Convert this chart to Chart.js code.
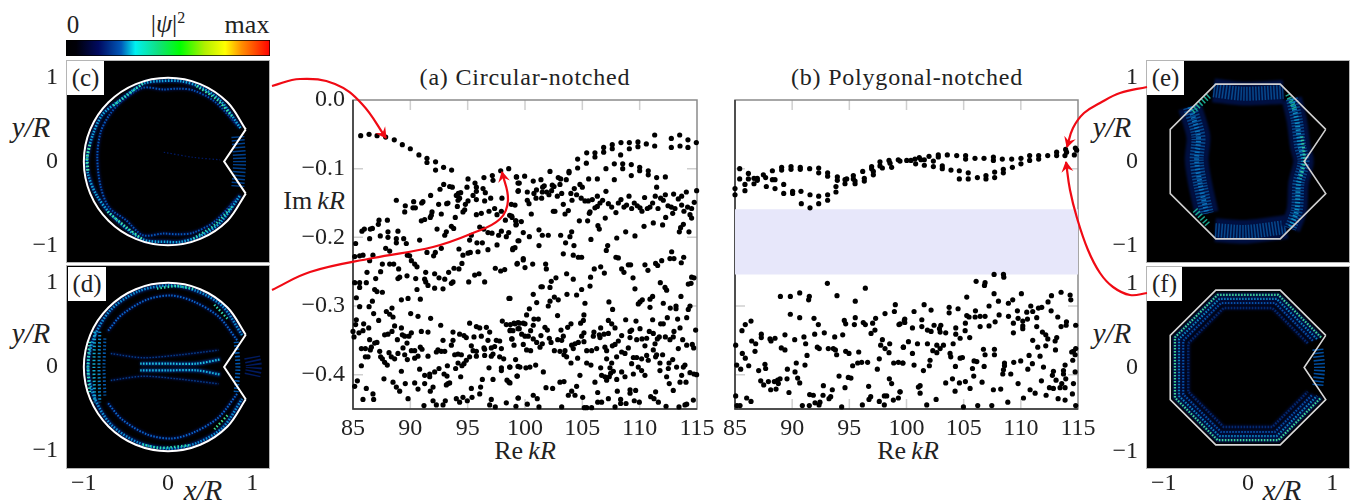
<!DOCTYPE html>
<html>
<head>
<meta charset="utf-8">
<script src="https://cdn.jsdelivr.net/npm/chart.js@4/dist/chart.umd.js"></script>
<style>
html, body { margin: 0; background: #fff; width: 1351px; height: 502px; overflow: hidden; }
canvas { position: absolute; }
.lbl { position: absolute; transform: translate(-50%, -50%); white-space: nowrap; color: #222; font-family: "Liberation Serif", serif; }
.tag { position: absolute; background: #fff; color: #222; font: 25px "Liberation Serif", serif; text-align: center; z-index: 3; }
</style>
</head>
<body>
<script>
// spectrum (a), circular notch: Re kR, Im kR
const circArc = [[85.67,-.052],[86.4,-.05],[87.1,-.052],[87.85,-.054],[88.6,-.058],[89.3,-.065],[90,-.071],[90.75,-.08],[91.45,-.085],[91.45,-.091],[92.2,-.09],[92.2,-.102],[92.9,-.098],[93.6,-.102]];
const circLeftTop = [[97.88,-.103],[98.58,-.1],[99.24,-.112],[95.03,-.115],[96.42,-.113],[97.15,-.11],[97.21,-.117],[95.64,-.121],[95.76,-.127],[94.94,-.127],[92.91,-.123],[92.59,-.13],[93.43,-.126],[93.66,-.127],[99.39,-.121],[99.39,-.133],[96.34,-.129],[96.54,-.135],[95.76,-.133],[95.47,-.139],[94.19,-.136],[94.39,-.135],[94.01,-.139],[94.3,-.143],[94.16,-.146],[91.77,-.139],[88.78,-.146],[90.29,-.148],[91.1,-.148],[90.99,-.15],[89.56,-.154],[90.23,-.157],[90.44,-.157],[89.51,-.163],[92.47,-.152],[93.17,-.151],[93.28,-.15],[94.1,-.155],[94.8,-.152],[95.03,-.147],[95.76,-.145],[96.48,-.147],[97.01,-.143],[97.99,-.143],[98.81,-.152],[97.35,-.158],[96.86,-.162],[97.94,-.162],[94.74,-.16],[94.59,-.163],[91.89,-.163],[91.83,-.168],[92.7,-.166],[96.19,-.165],[95.76,-.167],[91.74,-.171],[91.25,-.174],[90.96,-.176],[93.92,-.171],[98.66,-.168],[98.87,-.171],[98.29,-.175],[97.56,-.167],[99.19,-.176],[99.24,-.181],[87.27,-.175],[87.21,-.181],[88,-.175],[92.33,-.188],[93.58,-.184],[93.78,-.187],[93.14,-.192],[93,-.197],[96.05,-.185],[96.4,-.188],[96.77,-.193],[97.12,-.194],[97.94,-.191],[97.7,-.197],[98.58,-.193],[98.37,-.199],[85.78,-.191],[85.99,-.188],[86.51,-.188],[86.69,-.187],[88.92,-.191],[88.05,-.192],[87.38,-.198],[88.05,-.2],[86.45,-.202],[88.78,-.202],[89.42,-.202],[88.78,-.208],[89.65,-.209],[90.81,-.204],[95.32,-.197],[95.17,-.204],[95.81,-.208],[96.28,-.208],[85.23,-.209],[87.85,-.216],[88.2,-.22],[97.56,-.211],[98.95,-.216],[99.39,-.205],[86.74,-.226],[85.87,-.226],[85.58,-.227],[85.15,-.228],[89.74,-.226],[89.94,-.227],[91.45,-.222],[92.18,-.222],[92.03,-.227],[92.7,-.216],[94.24,-.217],[96.77,-.218],[95.9,-.221],[95.23,-.222],[95.03,-.223],[94.59,-.226]];
const circRightTop = [[111.31,-.051],[112.76,-.056],[113.49,-.051],[114.21,-.058],[114.94,-.062],[112.76,-.069],[113.52,-.067],[114.21,-.069],[111.31,-.067],[110.58,-.064],[109.85,-.061],[109.85,-.068],[109.1,-.062],[109.1,-.071],[108.37,-.062],[107.61,-.065],[107.61,-.071],[106.86,-.069],[106.86,-.076],[106.1,-.077],[106.1,-.083],[105.38,-.077],[104.59,-.086],[104.59,-.099],[105.35,-.092],[108.34,-.08],[103.84,-.104],[103.84,-.106],[102.18,-.104],[107.06,-.1],[107.79,-.093],[108.52,-.093],[108.52,-.1],[109.27,-.094],[109.27,-.11],[110,-.098],[110,-.103],[110.75,-.103],[110.75,-.109],[111.48,-.113],[112.24,-.112],[111.48,-.127],[105.55,-.115],[106.31,-.115],[107.79,-.116],[99.97,-.111],[99.27,-.112],[100.72,-.118],[101.39,-.116],[102.9,-.113],[103.11,-.115],[103.6,-.116],[99.5,-.121],[103.05,-.123],[102.38,-.124],[102.53,-.126],[101.68,-.125],[101.54,-.127],[99.42,-.132],[100.2,-.134],[101,-.131],[100.78,-.136],[100.96,-.143],[101.51,-.134],[101.89,-.134],[102.09,-.138],[102.32,-.132],[101.45,-.143],[102.82,-.14],[103.2,-.136],[104,-.136],[104.3,-.129],[104.79,-.123],[105,-.127],[104.5,-.138],[104.9,-.143],[105.23,-.147],[105.52,-.147],[105.87,-.145],[106.31,-.14],[107.06,-.133],[104.1,-.146],[100.2,-.146],[100.35,-.151],[99.13,-.153],[103.34,-.152],[106.77,-.146],[106.54,-.15],[106.31,-.155],[106.1,-.157],[105.67,-.163],[105.61,-.165],[107.27,-.151],[107.56,-.156],[107.93,-.164],[108.14,-.15],[108.37,-.145],[108.63,-.156],[108.86,-.153],[109.07,-.14],[109.3,-.158],[109.53,-.15],[109.79,-.154],[110.03,-.157],[110.2,-.162],[110.43,-.142],[110.67,-.158],[110.9,-.156],[111.13,-.15],[111.36,-.14],[111.6,-.158],[111.83,-.143],[112.06,-.146],[112.24,-.138],[112.47,-.154],[112.76,-.156],[112.96,-.137],[113.08,-.158],[113.37,-.144],[113.66,-.14],[113.66,-.153],[113.86,-.162],[114.07,-.134],[114.18,-.156],[114.53,-.158],[114.76,-.149],[114.39,-.167],[114.53,-.172],[114.97,-.132],[102.61,-.162],[102.47,-.162],[100.55,-.166],[103.78,-.161],[103.49,-.166],[98.84,-.169],[99.21,-.176],[99.21,-.182],[99.68,-.177],[104.74,-.176],[105.46,-.176],[106.36,-.183],[106.48,-.188],[107,-.172],[112.27,-.171],[112.88,-.165],[112,-.182],[111.19,-.179],[110.38,-.184],[109.59,-.198],[108.78,-.192],[108,-.201],[105.75,-.203],[107.21,-.212],[107.09,-.219],[101.22,-.189],[101.51,-.197],[102.03,-.197],[103.11,-.197],[104.07,-.192],[103.92,-.199],[103.54,-.208],[104.27,-.212],[99.85,-.193],[100.38,-.199],[99.47,-.205],[101.22,-.212],[99.13,-.215],[98.92,-.218],[113.81,-.181],[113.57,-.186],[113.46,-.192],[114.3,-.192],[103.34,-.224],[104.21,-.226],[104.65,-.229],[104.94,-.229],[107.93,-.229],[108.14,-.23],[112.79,-.221],[112.64,-.231],[112.99,-.231],[113.84,-.229],[99.85,-.231]];
const circRightLow = [[99.33,-.238],[99.85,-.233],[100,-.244],[100.67,-.239],[101.8,-.239],[101.86,-.246],[103.63,-.253],[104.21,-.261],[102.7,-.259],[102.29,-.264],[102.18,-.273],[101.39,-.272],[101.51,-.272],[100.72,-.283],[98.69,-.289],[105.72,-.258],[106.04,-.246],[106.6,-.243],[106.92,-.252],[105.67,-.271],[104.94,-.276],[104.5,-.284],[103.66,-.283],[102.56,-.287],[102.9,-.291],[102.18,-.293],[102.03,-.3],[101.02,-.295],[100.38,-.304],[100.14,-.313],[105.23,-.296],[108.43,-.246],[108.63,-.251],[109.01,-.24],[109.21,-.24],[109.42,-.259],[109.59,-.275],[110.46,-.24],[110.72,-.248],[111.39,-.238],[111.57,-.241],[111.92,-.234],[111.8,-.266],[112.21,-.273],[112.35,-.277],[113.63,-.237],[114.24,-.268],[114.48,-.267],[114.53,-.258],[114.74,-.259],[113.6,-.286],[107.32,-.294],[107.64,-.305],[109.88,-.297],[110.03,-.294],[110.23,-.291],[110.9,-.29],[111.13,-.286],[112.06,-.296],[110.9,-.302],[112.67,-.303],[113.17,-.3],[113.17,-.304],[114.39,-.3],[114.24,-.305],[114.1,-.317],[102.84,-.314],[105.14,-.313],[100.78,-.319],[101.16,-.319],[105.09,-.321],[104.85,-.325],[104.01,-.326],[103.72,-.331],[103.14,-.335],[101.74,-.331],[101.95,-.335],[100.72,-.328],[100.49,-.336],[100,-.326],[99.5,-.325],[99.13,-.326],[99.85,-.325],[107.27,-.321],[107.56,-.326],[106.6,-.332],[107.85,-.332],[108.78,-.32],[109.68,-.322],[111.13,-.32],[112.41,-.317],[113.31,-.319],[111.83,-.326],[112.06,-.326],[113.52,-.332],[114.88,-.335],[110.03,-.333],[109.3,-.335],[112.99,-.337],[106.01,-.338],[105.96,-.344],[106.48,-.342],[106.54,-.346],[106.89,-.341],[107.27,-.34],[105.14,-.339],[104.94,-.344],[108.43,-.343],[108.14,-.351],[107.85,-.356],[107.62,-.358],[109.16,-.337],[110.84,-.337],[111.19,-.34],[111.71,-.345],[111.54,-.348],[112.24,-.345],[112.93,-.345],[112.64,-.349],[113.75,-.349],[111.34,-.355],[110.46,-.358],[109.74,-.349],[110.2,-.348],[110.61,-.347],[109.16,-.346],[114.1,-.357],[114.59,-.356],[114.71,-.361],[113.37,-.362],[98.69,-.336],[99.5,-.333],[99.71,-.341],[100,-.344],[100.29,-.344],[100.72,-.348],[101.02,-.353],[101.39,-.343],[101.51,-.355],[101.31,-.36],[102.12,-.347],[102.27,-.353],[102.85,-.349],[103.2,-.35],[103.34,-.344],[98.84,-.348],[99.04,-.357],[99.85,-.356],[100.14,-.364],[100.49,-.365],[104.07,-.357],[104.36,-.355],[104.65,-.353],[105.14,-.352],[104.21,-.362],[102.56,-.365],[103.05,-.366],[103.49,-.365],[103.4,-.371],[103.63,-.374],[104.01,-.383],[104.59,-.376],[105.38,-.365],[105.81,-.365],[106.25,-.362],[106.97,-.36],[107.12,-.365],[107.99,-.374],[107.12,-.377],[107.56,-.383],[108.43,-.367],[108.72,-.369],[109.01,-.361],[109.45,-.375],[109.74,-.375],[110.17,-.377],[110.61,-.372],[110.75,-.379],[111.48,-.371],[111.39,-.374],[112,-.371],[111.19,-.364],[111.77,-.383],[112.56,-.383],[112.88,-.378],[99.18,-.378],[99.56,-.389],[100.08,-.39],[100.43,-.389],[100.93,-.386],[101.6,-.396],[99.33,-.402],[98.69,-.389],[98.69,-.412],[105.38,-.383],[105.75,-.386],[106.6,-.39],[107.41,-.39],[107.7,-.395],[107.47,-.398],[106.68,-.401],[106.97,-.403],[107.12,-.408],[107.35,-.403],[106.1,-.411],[104.79,-.401],[103.05,-.411],[103.4,-.41],[104.5,-.417],[101.83,-.419],[102.41,-.42],[108.43,-.396],[108.72,-.403],[108,-.407],[109.3,-.384],[109.88,-.389],[110.17,-.394],[109.45,-.399],[110.46,-.401],[111.77,-.394],[112.35,-.403],[112.58,-.413],[112.5,-.391],[113.22,-.389],[113.66,-.401],[113.52,-.411],[114.04,-.411],[113.81,-.389],[113.95,-.386],[114.39,-.397],[114.74,-.399],[114.97,-.4],[112.93,-.423],[106.34,-.426],[108.05,-.424],[109.16,-.422],[109.65,-.423],[109.16,-.427],[104.07,-.424],[103.78,-.43],[104.36,-.43],[105.03,-.433],[110.96,-.432],[111.25,-.435],[111.63,-.44],[111.39,-.425],[114.68,-.437],[114.1,-.443],[99.42,-.434],[100.72,-.43],[101.07,-.435],[100.2,-.443],[99.21,-.446],[101.22,-.447],[103.2,-.447],[105.17,-.448],[105.38,-.448],[105.81,-.448],[106.34,-.44],[106.68,-.44],[107.27,-.435],[107.85,-.447],[108.34,-.436],[108.34,-.442],[108.81,-.442],[109.53,-.438],[109.97,-.44],[112.3,-.446],[113.43,-.447],[113.95,-.444]];
const circLeftLow = [[86.45,-.234],[87.56,-.239],[88.2,-.239],[88.55,-.239],[88.98,-.246],[90.09,-.234],[90.38,-.239],[90.58,-.243],[91.34,-.251],[92.12,-.253],[93.34,-.251],[93.81,-.245],[94.24,-.246],[94.5,-.238],[86.22,-.251],[87.41,-.25],[86.98,-.26],[85.15,-.266],[85.58,-.266],[86.16,-.266],[85.58,-.273],[88.92,-.26],[89.07,-.258],[89.71,-.256],[90.47,-.26],[91.25,-.261],[91.34,-.265],[91.54,-.27],[92.12,-.274],[92.5,-.259],[93,-.261],[92.85,-.275],[93.58,-.267],[93.72,-.265],[95.09,-.265],[95.61,-.255],[95.99,-.253],[96.48,-.265],[97.41,-.245],[97.88,-.249],[98.23,-.247],[99.3,-.239],[90.58,-.276],[86.89,-.276],[87.09,-.279],[87.56,-.28],[89.22,-.291],[89.8,-.289],[90.87,-.29],[85.29,-.288],[86.69,-.293],[98.6,-.289],[85.58,-.301],[86.4,-.301],[86.8,-.311],[88.4,-.303],[87.91,-.308],[88.2,-.312],[88.49,-.316],[90.03,-.311],[90.67,-.315],[91.77,-.318],[87.24,-.321],[85.29,-.32],[85.23,-.327],[85.93,-.326],[86.37,-.332],[85.87,-.336],[85.52,-.339],[85,-.337],[85.09,-.345],[88.63,-.329],[89.22,-.332],[88.4,-.337],[88.05,-.341],[87.76,-.342],[90.09,-.339],[89.88,-.344],[89.3,-.342],[89.51,-.344],[88.87,-.349],[90.96,-.337],[91.54,-.338],[92.65,-.328],[93.72,-.338],[94.3,-.341],[94.68,-.343],[94.88,-.346],[95.17,-.325],[95.76,-.33],[96.05,-.332],[96.63,-.331],[96.92,-.338],[95.55,-.345],[96.19,-.344],[98.02,-.322],[98.37,-.327],[98.72,-.327],[99.04,-.325],[99.39,-.324],[98.72,-.335],[98.95,-.336],[99.39,-.333],[86.45,-.349],[86.89,-.354],[87.09,-.353],[89.71,-.354],[92.85,-.35],[93.72,-.35],[93.58,-.357],[96.77,-.35],[97.5,-.35],[97.79,-.351],[98.87,-.348],[97.35,-.359],[97.06,-.361],[96.42,-.361],[95.32,-.358],[95.47,-.365],[95.76,-.366],[85.73,-.362],[86.08,-.362],[86.6,-.36],[86.51,-.364],[87.33,-.366],[90.87,-.36],[91.02,-.363],[90.09,-.365],[90.38,-.365],[89.36,-.361],[92.41,-.364],[92.27,-.367],[92.7,-.366],[93,-.366],[86.08,-.374],[86.31,-.374],[87.41,-.374],[88.14,-.368],[88.92,-.369],[88.34,-.374],[88.63,-.377],[89.51,-.371],[89.74,-.378],[90.38,-.376],[90.67,-.373],[91.54,-.373],[93.87,-.371],[94.16,-.37],[94.45,-.371],[94.16,-.383],[95.17,-.374],[94.88,-.379],[94.68,-.384],[94.5,-.387],[95.76,-.373],[96.48,-.372],[97.06,-.373],[97.21,-.37],[97.79,-.374],[98.14,-.377],[97.94,-.362],[96.48,-.363],[87.56,-.377],[87.76,-.382],[87.99,-.386],[85.73,-.387],[93.23,-.387],[92.5,-.391],[93.95,-.391],[90.81,-.392],[89.22,-.395],[96.86,-.39],[97.94,-.39],[98.66,-.389],[99.39,-.388],[97.94,-.394],[91.25,-.401],[91.69,-.399],[92.12,-.396],[91.69,-.403],[92.94,-.399],[93.2,-.402],[94.39,-.403],[96.28,-.407],[97.21,-.407],[98.43,-.408],[98.6,-.411],[99.3,-.402],[87.7,-.406],[88.49,-.411],[85.38,-.409],[85.15,-.417],[88.78,-.418],[89.07,-.424],[89.56,-.413],[90.38,-.412],[90.67,-.421],[91.25,-.413],[91.98,-.418],[91.74,-.424],[93.14,-.415],[93.28,-.413],[93.43,-.412],[95.32,-.42],[96.13,-.418],[96.05,-.428],[86.16,-.42],[86.74,-.428],[85.87,-.436],[86.8,-.436],[89.8,-.435],[94.01,-.435],[94.59,-.433],[95.38,-.433],[94.97,-.438],[94.3,-.44],[91.98,-.438],[92.27,-.444],[93.05,-.438],[92.85,-.444],[91.19,-.445],[97.06,-.436],[96.92,-.444],[97.41,-.447],[98.37,-.441],[99.39,-.434]];

// spectrum (b), polygonal notch
const polyUpper = [[85,-.129],[85,-.138],[85.41,-.1],[85.41,-.115],[85.87,-.123],[85.87,-.132],[86.17,-.107],[86.17,-.115],[86.66,-.122],[86.66,-.114],[86.95,-.114],[86.95,-.117],[87.48,-.109],[87.68,-.113],[87.74,-.126],[88.27,-.103],[88.27,-.116],[88.5,-.129],[88.5,-.116],[89.08,-.098],[89.08,-.102],[89.26,-.123],[89.26,-.136],[89.9,-.097],[89.9,-.101],[90.04,-.133],[90.04,-.136],[90.71,-.098],[90.71,-.101],[90.77,-.133],[90.8,-.151],[91.53,-.1],[91.56,-.138],[91.56,-.157],[92.32,-.099],[92.32,-.106],[92.32,-.14],[92.32,-.151],[93.1,-.106],[93.1,-.111],[93.1,-.138],[93.1,-.146],[93.83,-.126],[93.83,-.134],[93.95,-.112],[93.95,-.117],[94.62,-.116],[94.62,-.122],[94.77,-.115],[95.35,-.11],[95.35,-.115],[95.5,-.122],[95.5,-.118],[96.17,-.104],[96.31,-.114],[96.31,-.118],[96.95,-.097],[96.95,-.1],[97.1,-.104],[97.1,-.109],[97.68,-.09],[97.68,-.096],[97.89,-.099],[98.47,-.088],[98.56,-.092],[98.7,-.098],[99.28,-.087],[99.43,-.089],[100.02,-.088],[100.39,-.088],[100.74,-.086],[100.8,-.093],[101.12,-.084],[101.27,-.087],[101.56,-.087],[101.56,-.095],[101.97,-.082],[102.35,-.089],[102.35,-.097],[102.78,-.08],[102.78,-.083],[103.13,-.096],[103.13,-.1],[103.57,-.08],[103.89,-.102],[104.39,-.081],[104.62,-.103],[104.62,-.115],[105.17,-.081],[105.17,-.086],[105.4,-.106],[105.4,-.115],[105.99,-.085],[106.2,-.113],[106.78,-.085],[106.95,-.11],[106.95,-.115],[107.6,-.083],[107.6,-.088],[107.71,-.105],[107.71,-.113],[108.38,-.086],[108.47,-.101],[108.47,-.106],[109.2,-.086],[109.26,-.098],[110.01,-.085],[110.01,-.093],[110.77,-.081],[110.77,-.088],[111.56,-.081],[111.56,-.086],[112.35,-.081],[113.13,-.076],[113.13,-.081],[113.92,-.072],[114,-.076],[113.86,-.081],[114.77,-.07],[114.68,-.08],[114.88,-.073]];
const polyLowLeft = [[93.08,-.267],[96.4,-.274],[93.92,-.285],[90.66,-.281],[91.5,-.286],[91.44,-.291],[88.97,-.286],[89.84,-.286],[95.52,-.293],[99.02,-.298],[98.94,-.308],[98.12,-.311],[89.84,-.312],[90.66,-.317],[91.91,-.318],[92.29,-.327],[95.52,-.317],[94.56,-.321],[94.68,-.326],[95.44,-.327],[96.22,-.324],[96.4,-.327],[97.3,-.318],[97.04,-.325],[99.34,-.327],[99.81,-.321],[86.4,-.322],[85.9,-.327],[85.61,-.336],[87.3,-.341],[87.3,-.346],[88.06,-.348],[88.15,-.351],[88.5,-.347],[89.37,-.342],[90.22,-.349],[91.03,-.345],[91.97,-.341],[92.81,-.339],[93.72,-.345],[94.42,-.342],[91.18,-.355],[96.9,-.34],[97.24,-.335],[97.89,-.349],[97.74,-.357],[98.53,-.355],[98.12,-.362],[98.47,-.368],[99.72,-.36],[86.46,-.351],[86.81,-.355],[85.06,-.357],[86.75,-.366],[85.64,-.369],[85.9,-.376],[89.05,-.361],[89.37,-.364],[92.2,-.36],[92.37,-.362],[93.16,-.362],[93.6,-.362],[93.78,-.364],[93.89,-.371],[94.68,-.366],[94.97,-.369],[95.82,-.367],[91.3,-.372],[91.12,-.386],[90.36,-.383],[85.15,-.386],[85.5,-.392],[86.2,-.387],[87.07,-.394],[87.62,-.385],[87.68,-.391],[89.58,-.392],[90.25,-.396],[95.29,-.387],[95.73,-.383],[96.08,-.382],[96.6,-.382],[97.62,-.377],[97.45,-.392],[98.88,-.383],[99.29,-.382],[99.69,-.383],[94.1,-.402],[94.91,-.404],[95.14,-.405],[90.48,-.405],[90.66,-.412],[89.55,-.406],[87.25,-.409],[87.51,-.415],[87.92,-.41],[88.12,-.422],[88.59,-.421],[88.44,-.41],[88.73,-.408],[88.94,-.406],[88.79,-.413],[92.73,-.416],[93.51,-.422],[94.62,-.419],[96.69,-.417],[98.5,-.406],[98.7,-.413],[89.72,-.426],[85.06,-.431],[86.02,-.434],[86.4,-.439],[91.53,-.429],[91.85,-.43],[92.7,-.43],[93.37,-.432],[93.22,-.435],[92,-.441],[92.43,-.44],[92.35,-.444],[90.89,-.445],[91.5,-.445],[94.33,-.447],[96.14,-.444],[96.87,-.432],[96.72,-.436],[97.62,-.439],[98.06,-.431],[98.27,-.431],[98.85,-.437],[99.29,-.434],[99.43,-.425],[98.06,-.444],[85.17,-.445],[85.44,-.445]];
const polyLowRight = [[107.66,-.254],[108.48,-.254],[108.51,-.258],[106.09,-.264],[106.87,-.266],[106.82,-.27],[105.27,-.287],[107.66,-.282],[108.04,-.293],[110.05,-.282],[109.29,-.291],[108.91,-.296],[112.68,-.285],[112.38,-.294],[113.52,-.28],[114.31,-.284],[114.37,-.291],[101.54,-.298],[100.66,-.308],[102.15,-.306],[103.73,-.302],[103.73,-.31],[104.51,-.304],[106.03,-.307],[107.22,-.3],[110.87,-.3],[109.7,-.307],[110.52,-.309],[111.04,-.308],[111.54,-.303],[111.83,-.302],[112.65,-.307],[99.85,-.319],[99.85,-.324],[99.44,-.326],[101.34,-.32],[101.34,-.33],[100.52,-.332],[101.83,-.335],[102.15,-.337],[102.41,-.328],[103,-.328],[102.88,-.333],[102.94,-.338],[103.43,-.339],[104.31,-.332],[104.31,-.341],[104.69,-.347],[105.13,-.336],[105.15,-.325],[105.53,-.346],[105.27,-.314],[105.47,-.316],[106,-.316],[106.44,-.315],[106.87,-.315],[106.44,-.33],[107.22,-.329],[107.75,-.323],[108.1,-.313],[108.92,-.315],[109.76,-.318],[109.35,-.325],[110.17,-.322],[110.58,-.319],[110.17,-.329],[110.17,-.333],[109.35,-.339],[111.39,-.317],[111.39,-.33],[111.89,-.338],[112.18,-.342],[112.36,-.348],[113.23,-.316],[113.52,-.33],[113.96,-.328],[113.99,-.323],[114.8,-.328],[113.14,-.346],[113,-.351],[111.04,-.35],[111.48,-.36],[112.18,-.358],[113.03,-.364],[114.6,-.366],[114.8,-.362],[114.45,-.367],[114.75,-.371],[99.73,-.36],[100.17,-.352],[100.96,-.355],[100.52,-.369],[101.83,-.355],[102.65,-.357],[103.23,-.357],[102.94,-.362],[102.3,-.365],[102.65,-.368],[104.08,-.355],[103.81,-.369],[103.87,-.374],[106.73,-.363],[107.69,-.363],[106.87,-.371],[107.69,-.371],[104.69,-.376],[104.89,-.375],[105.91,-.38],[106.15,-.381],[102.06,-.379],[99.67,-.383],[100.66,-.386],[102,-.387],[101.48,-.394],[104.28,-.388],[105.77,-.391],[106.79,-.388],[108.57,-.383],[108.57,-.387],[108.48,-.393],[108.42,-.399],[109.12,-.399],[109.38,-.382],[109.99,-.38],[111.01,-.384],[110.72,-.372],[111.68,-.373],[111.98,-.389],[110.61,-.392],[112.85,-.395],[112.76,-.401],[113.08,-.408],[113.73,-.394],[113.87,-.386],[114.54,-.379],[113.73,-.399],[113.93,-.406],[114.75,-.396],[105.88,-.402],[106.61,-.411],[103.43,-.412],[104.02,-.406],[104.63,-.412],[105.15,-.41],[105.56,-.42],[104.25,-.424],[101.19,-.416],[101.04,-.418],[101.19,-.427],[99.44,-.425],[107.6,-.422],[108.24,-.421],[109.76,-.413],[111.8,-.409],[110.81,-.422],[111.25,-.427],[110.23,-.434],[112.21,-.43],[112.5,-.419],[112.85,-.42],[113.43,-.419],[113.58,-.413],[113.87,-.419],[114.6,-.413],[114.51,-.428],[113.26,-.435],[113.87,-.437],[108.86,-.44],[102.59,-.436],[101.77,-.444],[104.98,-.447],[106.23,-.445],[107.46,-.445],[114.8,-.445]];

const gapTop = -0.159;
const gapBottom = -0.254;
const reTicks = [85, 90, 95, 100, 105, 110, 115];
const imTicks = [0, -0.1, -0.2, -0.3, -0.4];
const unitTicks = [-1, 0, 1];

// billiard outlines in x/R, y/R
const circleArc = [[.924,.383],[.707,.707],[.383,.924],[0,1],[-.383,.924],[-.707,.707],[-.924,.383],[-1,0],[-.924,-.383],[-.707,-.707],[-.383,-.924],[0,-1],[.383,-.924],[.707,-.707],[.924,-.383]];
const notchEdge = [[.924,-.383],[.667,0],[.924,.383]];
const octagonEdge = [[.924,.383],[.383,.924],[-.383,.924],[-.924,.383],[-.924,-.383],[-.383,-.924],[.383,-.924],[.924,-.383],[.667,0],[.924,.383]];

// bright ridges of the four modes
const cOuter = [[.86,.4],[.62,.73],[.38,.89],[.15,.96],[-.1,.96],[-.29,.93],[-.6,.71],[-.78,.56],[-.89,.33],[-.96,.05],[-.95,-.15],[-.85,-.4],[-.66,-.65],[-.3,-.93],[0,-.96],[.15,-.96],[.38,-.89],[.62,-.73],[.86,-.4]];
const cInner = [[.82,.44],[.55,.72],[.3,.85],[.12,.87],[-.05,.86],[-.3,.88],[-.55,.72],[-.7,.55],[-.8,.35],[-.84,.05],[-.8,-.3],[-.7,-.55],[-.5,-.7],[-.3,-.88],[-.05,-.86],[.12,-.87],[.3,-.85],[.55,-.72],[.82,-.44]];
const cGreenTop = [[.34,.9],[.58,.74],[.76,.54]];
const cGreenLeft = [[-.93,.2],[-.96,.05],[-.95,-.12]];
const cGreenUpper = [[-.3,.93],[-.5,.78],[-.66,.66]];
const cGreenLower = [[-.72,-.6],[-.5,-.78],[-.3,-.93]];
const cGreenBottom = [[.3,-.92],[.55,-.76],[.76,-.54]];
const cLeak = [[.83,.3],[.85,0],[.83,-.3]];
const cFaint = [[-.05,.11],[.3,.05],[.62,.02]];
const dOuter = [[.88,.38],[.65,.72],[.35,.9],[.02,.97],[-.35,.9],[-.68,.68],[-.88,.35],[-.95,0],[-.88,-.35],[-.68,-.68],[-.35,-.9],[.02,-.97],[.35,-.9],[.65,-.72],[.88,-.38]];
const dInner = [[.82,.32],[.6,.6],[.3,.78],[.04,.85],[-.25,.8],[-.55,.62],[-.72,.42]];
const dInnerLow = [[.82,-.32],[.6,-.6],[.3,-.78],[.04,-.85],[-.25,-.8],[-.55,-.62],[-.72,-.42]];
const dGreenA = [[.3,.93],[.1,.96],[-.15,.93]];
const dGreenB = [[.55,-.74],[.72,-.56]];
const dGreenC = [[-.3,-.92],[-.1,-.96],[.25,-.93]];
const dGreenD = [[.55,.74],[.72,.56]];
const dRimA = [[-.93,.3],[-.95,0],[-.93,-.3]];
const dRimB = [[-.87,.42],[-.88,0],[-.87,-.42]];
const dRimC = [[-.81,.42],[-.82,0],[-.81,-.42]];
const dRimD = [[-.75,.34],[-.76,0],[-.75,-.34]];
const dStripeUp = [[-.33,.04],[0,.04],[.34,.04],[.62,.09]];
const dStripeDown = [[-.33,-.04],[0,-.04],[.34,-.04],[.62,-.09]];
const dWingUp = [[-.68,.16],[-.3,.11],[.1,.14],[.6,.2]];
const dWingDown = [[-.68,-.16],[-.3,-.11],[.1,-.14],[.6,-.2]];
const dLeak = [[.81,.3],[.83,0],[.81,-.3]];
const dFan = [[1.0,.12],[1.02,0],[1.0,-.12]];
const eLeft = [[-.69,.65],[-.59,.3],[-.61,.02],[-.57,-.26],[-.49,-.62]];
const eRight = [[.52,.75],[.58,.49],[.62,.18],[.66,0],[.6,-.26],[.58,-.58],[.5,-.8]];
const eTop = [[-.41,.85],[-.06,.81],[.42,.83]];
const eBottom = [[-.39,-.82],[-.02,-.84],[.46,-.78]];
const eCornerA = [[-.66,.6],[-.46,.79]];
const eCornerB = [[-.63,-.58],[-.47,-.76]];
const eCornerC = [[.47,.8],[.56,.62]];
const eSpark = [[.64,.3],[.67,.02],[.62,-.2]];
const fRingA = [[.868,.36],[.36,.868],[-.36,.868],[-.868,.36],[-.868,-.36],[-.36,-.868],[.36,-.868],[.868,-.36]];
const fRingB = [[.82,.34],[.34,.82],[-.34,.82],[-.82,.34],[-.82,-.34],[-.34,-.82],[.34,-.82],[.82,-.34]];
const fRingC = [[.77,.32],[.32,.77],[-.32,.77],[-.77,.32],[-.77,-.32],[-.32,-.77],[.32,-.77],[.77,-.32]];
const fRingD = [[.71,.29],[.29,.71],[-.29,.71],[-.71,.29],[-.71,-.29],[-.29,-.71],[.29,-.71],[.71,-.29]];
const fLeak = [[.83,.22],[.85,0],[.83,-.22]];

// colour bar stops
const barStops = [0, .05, .16, .27, .34, .45, .56, .68, .78, .86, 1];
const barColors = ['#000000', '#000008', '#000a60', '#0058b8', '#00f0f0', '#10e080', '#00ff00', '#b0f000', '#ffff00', '#ff9000', '#ff0000'];

// red connectors, on a scale the size of the page
const arrowC = [[272,86],[300,79],[335,84],[362,104],[386,138]];
const arrowD = [[272,290],[310,272],[373,258],[433,247],[473,233],[500,219],[508,200],[502,172]];
const arrowE = [[1147,87],[1120,93],[1100,103],[1084,113],[1073,128],[1067,147]];
const arrowF = [[1147,293],[1130,295],[1113,287],[1100,273],[1088,250],[1077,218],[1070,190],[1066,162]];

const pageLabels = [
    ['(a) Circular-notched', 525, 77, 24, .8],
    ['(b) Polygonal-notched', 907, 77, 24, .8],
    ['Re&thinsp;<i>kR</i>', 525, 451, 26, 0],
    ['Re&thinsp;<i>kR</i>', 908, 451, 26, 0],
    ['Im&thinsp;<i>kR</i>', 314, 201, 26, 0],
    ['<i>y/R</i>', 31, 127, 29, 0],
    ['<i>y/R</i>', 31, 333, 29, 0],
    ['<i>y/R</i>', 1112, 127, 29, 0],
    ['<i>y/R</i>', 1112, 333, 29, 0],
    ['<i>x/R</i>', 203, 490, 29, 0],
    ['<i>x/R</i>', 1282, 490, 29, 0],
    ['0', 73, 25, 25, 0],
    ['|<i>ψ</i>|<sup style="font-size:16px">2</sup>', 168, 24, 26, 0],
    ['max', 247, 25, 26, 0]
];
const panelTags = [
    ['(c)', 67, 61, 37, 34],
    ['(d)', 68, 267, 38, 34],
    ['(e)', 1147, 61, 37, 34],
    ['(f)', 1147, 267, 35, 34]
];

Chart.defaults.font.family = '"Liberation Serif", serif';
Chart.defaults.color = '#222';
Chart.defaults.animation = false;

const toXY = pts => pts.map(p => ({ x: p[0], y: p[1] }));

function addCanvas(left, top, width, height, z) {
    const c = document.createElement('canvas');
    c.width = width;
    c.height = height;
    c.style.left = left + 'px';
    c.style.top = top + 'px';
    c.style.zIndex = z || 1;
    document.body.appendChild(c);
    return c;
}

// stops tick labels from pushing the plot area about
function pinX(height) {
    return s => { s.height = height; s.paddingLeft = 0; s.paddingRight = 0; };
}
function pinY(width) {
    return s => { s.width = width; s.paddingTop = 0; s.paddingBottom = 0; };
}

// pgfplots style frame and inward ticks
const frameTicks = {
    id: 'frameTicks',
    beforeDatasetsDraw(chart) {
        const { ctx, chartArea: a, scales } = chart;
        ctx.save();
        ctx.strokeStyle = '#cfcfcf';
        ctx.lineWidth = 1.5;
        ctx.beginPath();
        reTicks.slice(1, -1).forEach(v => {
            const x = scales.x.getPixelForValue(v);
            ctx.moveTo(x, a.top); ctx.lineTo(x, a.top + 10);
            ctx.moveTo(x, a.bottom); ctx.lineTo(x, a.bottom - 10);
        });
        imTicks.slice(1).forEach(v => {
            const y = scales.y.getPixelForValue(v);
            ctx.moveTo(a.left, y); ctx.lineTo(a.left + 10, y);
            ctx.moveTo(a.right, y); ctx.lineTo(a.right - 10, y);
        });
        ctx.stroke();
        ctx.strokeStyle = '#8a8a8a';
        ctx.strokeRect(a.left, a.top, a.right - a.left, a.bottom - a.top);
        ctx.strokeStyle = '#333';
        ctx.beginPath();
        ctx.moveTo(a.left, a.top); ctx.lineTo(a.left, a.bottom); ctx.lineTo(a.right, a.bottom);
        ctx.stroke();
        ctx.restore();
    }
};

function spectrumChart(area, showY, datasets) {
    const m = { l: showY ? 68 : 20, t: 20, r: 24, b: 36 };
    const canvas = addCanvas(area.l - m.l, area.t - m.t, area.r - area.l + m.l + m.r, area.b - area.t + m.t + m.b);
    return new Chart(canvas, {
        type: 'scatter',
        data: { datasets },
        options: {
            responsive: false,
            layout: { padding: { top: m.t, right: m.r } },
            plugins: { legend: { display: false }, tooltip: { enabled: false } },
            elements: { point: { radius: 2.6, borderWidth: 0, backgroundColor: '#000' } },
            scales: {
                x: {
                    min: 85, max: 115,
                    grid: { display: false, drawTicks: false },
                    border: { display: false },
                    afterBuildTicks: s => { s.ticks = reTicks.map(value => ({ value })); },
                    afterFit: pinX(m.b),
                    ticks: { autoSkip: false, maxRotation: 0, padding: 5, font: { size: 24 } }
                },
                y: {
                    min: -0.45, max: 0,
                    grid: { display: false, drawTicks: false },
                    border: { display: false },
                    afterBuildTicks: s => { s.ticks = imTicks.map(value => ({ value })); },
                    afterFit: pinY(m.l),
                    ticks: {
                        display: showY, padding: 8, font: { size: 24 },
                        callback: v => (v < 0 ? '\u2212' : '') + Math.abs(v).toFixed(1)
                    }
                }
            }
        },
        plugins: [frameTicks]
    });
}

function dots(pts) {
    return { data: toXY(pts), clip: false, order: 1 };
}

spectrumChart({ l: 353, t: 100, r: 697, b: 409 }, true,
    [circArc, circLeftTop, circRightTop, circRightLow, circLeftLow].map(dots));

spectrumChart({ l: 735, t: 100, r: 1078, b: 409 }, false, [
    { data: toXY([[85, gapTop], [115, gapTop]]), showLine: true, fill: '+1', backgroundColor: '#e7e7fa', borderWidth: 0, pointRadius: 0, order: 2 },
    { data: toXY([[85, gapBottom], [115, gapBottom]]), showLine: true, borderWidth: 0, pointRadius: 0, order: 3 },
    dots(polyUpper), dots(polyLowLeft), dots(polyLowRight)
]);

// black background, soft glow on the ridge datasets
const modeImage = {
    id: 'modeImage',
    beforeDatasetsDraw(chart) {
        const { ctx, chartArea: a } = chart;
        ctx.save();
        ctx.fillStyle = '#000';
        ctx.fillRect(a.left, a.top, a.right - a.left, a.bottom - a.top);
        ctx.strokeStyle = '#b5b5b5';
        ctx.lineWidth = 1;
        ctx.strokeRect(a.left - .5, a.top - .5, a.right - a.left + 1, a.bottom - a.top + 1);
        ctx.restore();
    },
    beforeDatasetDraw(chart, args) {
        const b = chart.data.datasets[args.index].blur;
        chart.ctx.filter = b ? 'blur(' + b + 'px)' : 'none';
    },
    afterDatasetDraw(chart) {
        chart.ctx.filter = 'none';
    }
};

// one ridge: thin dim halo under a speckled core
function ridge(pts, color, width, halo, tension) {
    const base = { data: toXY(pts), showLine: true, tension: tension === undefined ? .3 : tension, pointRadius: 0 };
    return [
        Object.assign({}, base, { borderColor: halo || '#000c3c', borderWidth: width * 1.7, blur: 1.2 }),
        Object.assign({}, base, { borderColor: color, borderWidth: width, borderDash: [1.5, 1.5], blur: .25 })
    ];
}

function stripes(pts, color, width) {
    return { data: toXY(pts), showLine: true, tension: .3, pointRadius: 0, borderColor: color, borderWidth: width, borderDash: [1.5, 2], blur: .25 };
}

function outline(pts, color, width, tension) {
    return { data: toXY(pts), showLine: true, tension, pointRadius: 0, borderColor: color, borderWidth: width };
}

function modeChart(area, showX, layers) {
    const m = { l: 48, t: 10, r: 2, b: showX ? 30 : 4 };
    const canvas = addCanvas(area.l - m.l, area.t - m.t, area.r - area.l + m.l + m.r, area.b - area.t + m.t + m.b);
    return new Chart(canvas, {
        type: 'scatter',
        // chart.js paints the first dataset last, layers are listed bottom to top
        data: { datasets: layers.reverse() },
        options: {
            responsive: false,
            layout: { padding: { top: m.t, right: m.r } },
            plugins: { legend: { display: false }, tooltip: { enabled: false } },
            scales: {
                x: {
                    min: -1.2, max: 1.2,
                    grid: { display: false, drawTicks: false },
                    border: { display: false },
                    afterBuildTicks: s => { s.ticks = unitTicks.map(value => ({ value })); },
                    afterFit: pinX(m.b),
                    ticks: {
                        display: showX, autoSkip: false, maxRotation: 0, padding: 1, font: { size: 24 },
                        callback: v => (v < 0 ? '\u2212' : '') + Math.abs(v)
                    }
                },
                y: {
                    min: -1.2, max: 1.2,
                    grid: { display: false, drawTicks: false },
                    border: { display: false },
                    afterBuildTicks: s => { s.ticks = unitTicks.map(value => ({ value })); },
                    afterFit: pinY(m.l),
                    ticks: {
                        padding: 9, font: { size: 24 },
                        callback: v => (v < 0 ? '\u2212' : '') + Math.abs(v)
                    }
                }
            }
        },
        plugins: [modeImage]
    });
}

modeChart({ l: 67, t: 61, r: 269, b: 262 }, false, [
    ...ridge(cInner, '#0558b8', 2),
    ...ridge(cOuter, '#10a8d8', 2.6, '#001a60'),
    stripes(cGreenTop, '#40e8a0', 2.4),
    stripes(cGreenLeft, '#50e8a0', 3),
    stripes(cGreenUpper, '#30e0b0', 2.4),
    stripes(cGreenLower, '#40e8a0', 2.4),
    stripes(cGreenBottom, '#30d8b0', 2.4),
    stripes(cLeak, '#00408c', 13),
    stripes(cFaint, '#001a66', 1.2),
    outline(circleArc, '#fff', 2, .34),
    outline(notchEdge, '#fff', 2, 0)
]);

modeChart({ l: 67, t: 266, r: 269, b: 468 }, true, [
    ...ridge(dInner, '#0a66c8', 2),
    ...ridge(dInnerLow, '#0a66c8', 2),
    ...ridge(dOuter, '#0c90d0', 2.6, '#001a60'),
    stripes(dGreenA, '#30e0a8', 2.4),
    stripes(dGreenB, '#40e090', 2.4),
    stripes(dGreenC, '#30e0a8', 2.4),
    stripes(dGreenD, '#30d8b0', 2.4),
    stripes(dRimA, '#30d8b8', 3),
    stripes(dRimB, '#10a8d0', 3),
    stripes(dRimC, '#0c88c8', 3),
    stripes(dRimD, '#0558a8', 3),
    ...ridge(dWingUp, '#06408c', 1.4),
    ...ridge(dWingDown, '#06408c', 1.4),
    ...ridge(dStripeUp, '#20c8e0', 2.2, '#002a78'),
    ...ridge(dStripeDown, '#18b8d8', 2.2, '#002a78'),
    stripes(dLeak, '#0058b0', 5),
    stripes(dFan, '#001a60', 16),
    outline(circleArc, '#fff', 2, .34),
    outline(notchEdge, '#fff', 2, 0)
]);

modeChart({ l: 1147, t: 61, r: 1349, b: 262 }, false, [
    ...ridge(eLeft, '#06488c', 14, '#000f40'),
    ...ridge(eTop, '#06488c', 14, '#000f40'),
    ...ridge(eBottom, '#06488c', 14, '#000f40'),
    ...ridge(eRight, '#06488c', 12, '#000f40'),
    stripes(eLeft, '#0a70b8', 5),
    stripes(eRight, '#0c8cc0', 5),
    stripes(eCornerA, '#18a890', 6),
    stripes(eCornerB, '#18a890', 6),
    stripes(eCornerC, '#18a890', 5),
    stripes(eSpark, '#30c8a0', 3),
    outline(octagonEdge, '#cfcfcf', 1.6, 0)
]);

modeChart({ l: 1147, t: 267, r: 1349, b: 468 }, true, [
    ...ridge(fRingD, '#032a70', 2.4, '#000a30', 0),
    ...ridge(fRingC, '#0650a8', 2.2, '#000f40', 0),
    ...ridge(fRingB, '#0c88c0', 2.2, '#001050', 0),
    ...ridge(fRingA, '#40d890', 2.2, '#001a60', 0),
    stripes(fLeak, '#004c9c', 11),
    outline(octagonEdge, '#d8d8d8', 1.6, 0)
]);

// colour bar
new Chart(addCanvas(66, 40, 204, 16), {
    type: 'bar',
    data: {
        labels: [''],
        datasets: [{
            data: [[0, 1]],
            borderColor: '#000',
            borderWidth: 1,
            borderSkipped: false,
            barPercentage: 1,
            categoryPercentage: 1,
            backgroundColor: ctx => {
                const { chartArea: a, ctx: c } = ctx.chart;
                if (!a) return '#000';
                const g = c.createLinearGradient(a.left, 0, a.right, 0);
                barStops.forEach((s, i) => g.addColorStop(s, barColors[i]));
                return g;
            }
        }]
    },
    options: {
        indexAxis: 'y',
        responsive: false,
        layout: { padding: 0 },
        plugins: { legend: { display: false }, tooltip: { enabled: false } },
        scales: { x: { display: false, min: 0, max: 1 }, y: { display: false } }
    }
});

// stealth head at the end of each connector
const arrowHeads = {
    id: 'arrowHeads',
    afterDatasetsDraw(chart) {
        const ctx = chart.ctx;
        chart.data.datasets.forEach((ds, i) => {
            const pts = chart.getDatasetMeta(i).data;
            const tip = pts[pts.length - 1], prev = pts[pts.length - 2];
            const ang = Math.atan2(tip.y - prev.y, tip.x - prev.x);
            ctx.save();
            ctx.translate(tip.x, tip.y);
            ctx.rotate(ang);
            ctx.fillStyle = '#f00a14';
            ctx.beginPath();
            ctx.moveTo(1, 0);
            ctx.lineTo(-10, -6);
            ctx.lineTo(-6, 0);
            ctx.lineTo(-10, 6);
            ctx.closePath();
            ctx.fill();
            ctx.restore();
        });
    }
};

new Chart(addCanvas(0, 0, 1351, 502, 4), {
    type: 'scatter',
    data: {
        datasets: [arrowC, arrowD, arrowE, arrowF].map(pts => ({
            data: toXY(pts), showLine: true, tension: .4, pointRadius: 0, borderColor: '#f00a14', borderWidth: 2.2, clip: false
        }))
    },
    options: {
        responsive: false,
        layout: { padding: 0 },
        plugins: { legend: { display: false }, tooltip: { enabled: false } },
        scales: {
            x: { display: false, min: 0, max: 1351 },
            y: { display: false, min: 0, max: 502, reverse: true }
        }
    },
    plugins: [arrowHeads]
});

pageLabels.forEach(([html, x, y, size, spacing]) => {
    const d = document.createElement('div');
    d.className = 'lbl';
    d.innerHTML = html;
    d.style.left = x + 'px';
    d.style.top = y + 'px';
    d.style.fontSize = size + 'px';
    if (spacing) d.style.letterSpacing = spacing + 'px';
    document.body.appendChild(d);
});

panelTags.forEach(([text, x, y, w, h]) => {
    const d = document.createElement('div');
    d.className = 'tag';
    d.textContent = text;
    d.style.cssText += `left:${x}px;top:${y}px;width:${w}px;height:${h}px;line-height:${h}px`;
    document.body.appendChild(d);
});
</script>
</body>
</html>
